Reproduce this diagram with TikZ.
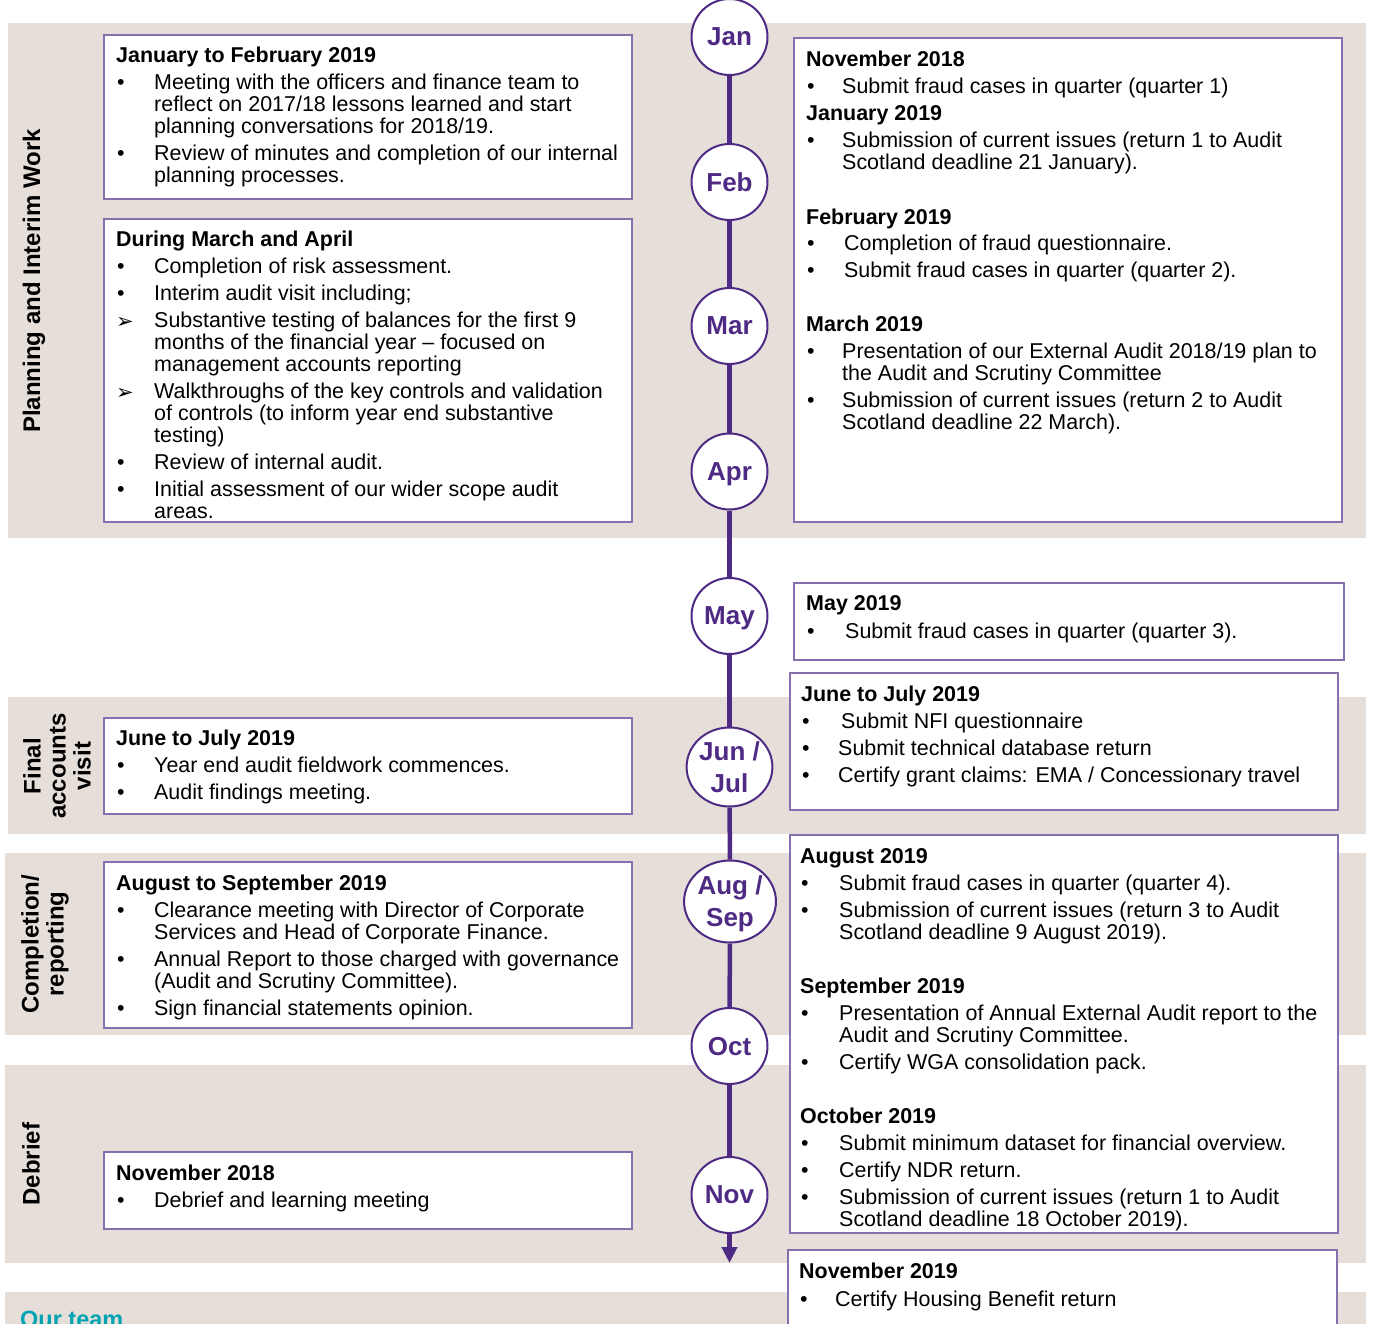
\documentclass[tikz,border=0pt]{standalone}
\usepackage{fontspec}
\setmainfont{Liberation Sans}
\newfontfamily\dejavu{DejaVu Sans}
\usetikzlibrary{arrows.meta,shapes.geometric}
\definecolor{bandc}{HTML}{E6DFD9}
\definecolor{purp}{HTML}{4E2A84}
\definecolor{boxline}{HTML}{8370AC}
\definecolor{ourteal}{HTML}{00A3B4}
\newcommand\bodyfont{\fontsize{21.45}{22}\selectfont}
\newcounter{lnc}
\newcommand\tx[3]{\stepcounter{lnc}\node[txt] (line\arabic{lnc}) at (#1,#2) {#3};}
\newcommand\hd[3]{\stepcounter{lnc}\node[txt,font=\bodyfont\bfseries] (line\arabic{lnc}) at (#1,#2) {#3};}
\newcommand\bul[1]{\makebox[#1pt][l]{\hspace{1pt}•}}
\newcommand\arr[1]{\makebox[#1pt][l]{\raisebox{-0.5pt}{\dejavu\fontsize{21}{21}\selectfont ➢}}}
\tikzset{
  txt/.style={anchor=base west, inner sep=0pt, font=\bodyfont},
  boxr/.style={draw=boxline, line width=1.3pt, fill=white},
  mon/.style={circle, draw=purp, line width=2pt, fill=white, minimum size=76pt, inner sep=0pt,
    text=purp, font=\fontsize{26}{32}\selectfont\bfseries, align=center, text depth=0pt},
  mon2/.style={ellipse, draw=purp, line width=2pt, fill=white, inner sep=0pt,
    text=purp, font=\fontsize{26}{32}\selectfont\bfseries, align=center, text depth=0pt},
  tline/.style={draw=purp, line width=4.5pt},
  vlab/.style={rotate=90, inner sep=0pt, font=\fontsize{24}{25}\selectfont\bfseries, align=center},
}
\begin{document}
\begin{tikzpicture}[x=1pt,y=-1pt]
\useasboundingbox (0,0) rectangle (1373,1323);
% bands
\fill[bandc] (8,23) rectangle (1366,538);
\fill[bandc] (8,697) rectangle (1366,834);
\fill[bandc] (5,853) rectangle (1366,1035);
\fill[bandc] (5,1065) rectangle (1366,1263);
\fill[bandc] (5,1292) rectangle (1366,1340);
% side labels
\node[vlab] (lab1) at (34,281) {Planning and Interim Work};
\node[vlab] (lab2) at (57,766) {Final\\accounts\\visit};
\node[vlab] (lab3) at (45,944) {Completion/\\reporting};
\node[vlab] (lab4) at (31,1164) {Debrief};
\node[anchor=base west, inner sep=0pt, font=\fontsize{23.5}{25}\selectfont\bfseries, text=ourteal] (ourteam) at (20,1327) {Our team};
% boxes
\draw[boxr] (104,35) rectangle (632,199);
\draw[boxr] (104,219) rectangle (632,522);
\draw[boxr] (104,718) rectangle (632,814);
\draw[boxr] (104,862) rectangle (632,1028);
\draw[boxr] (104,1152) rectangle (632,1229);
\draw[boxr] (794,38) rectangle (1342,522);
\draw[boxr] (794,583) rectangle (1344,660);
\draw[boxr] (790,673) rectangle (1338,810);
\draw[boxr] (790,835) rectangle (1338,1233);
\draw[boxr] (788,1250) rectangle (1337,1345);
% left texts
\hd{116}{62.7}{January to February 2019}
\tx{116}{89.7}{\bul{38}Meeting with the officers and finance team to}
\tx{154}{111.7}{reflect on 2017/18 lessons learned and start}
\tx{154}{133.7}{planning conversations for 2018/19.}
\tx{116}{160.7}{\bul{38}Review of minutes and completion of our internal}
\tx{154}{182.7}{planning processes.}
\hd{116}{246.7}{During March and April}
\tx{116}{273.7}{\bul{38}Completion of risk assessment.}
\tx{116}{300.7}{\bul{38}Interim audit visit including;}
\tx{116}{327.7}{\arr{38}Substantive testing of balances for the first 9}
\tx{154}{349.7}{months of the financial year – focused on}
\tx{154}{371.7}{management accounts reporting}
\tx{116}{398.7}{\arr{38}Walkthroughs of the key controls and validation}
\tx{154}{420.7}{of controls (to inform year end substantive}
\tx{154}{442.7}{testing)}
\tx{116}{469.7}{\bul{38}Review of internal audit.}
\tx{116}{496.7}{\bul{38}Initial assessment of our wider scope audit}
\tx{154}{518.7}{areas.}
\hd{116}{745.5}{June to July 2019}
\tx{116}{772.5}{\bul{38}Year end audit fieldwork commences.}
\tx{116}{799.5}{\bul{38}Audit findings meeting.}
\hd{116}{890.5}{August to September 2019}
\tx{116}{917.5}{\bul{38}Clearance meeting with Director of Corporate}
\tx{154}{939.5}{Services and Head of Corporate Finance.}
\tx{116}{966.5}{\bul{38}Annual Report to those charged with governance}
\tx{154}{988.5}{(Audit and Scrutiny Committee).}
\tx{116}{1015.5}{\bul{38}Sign financial statements opinion.}
\hd{116}{1180.5}{November 2018}
\tx{116}{1207.5}{\bul{38}Debrief and learning meeting}
% right texts
\hd{806}{66.7}{November 2018}
\tx{806}{93.7}{\bul{36}Submit fraud cases in quarter (quarter 1)}
\hd{806}{120.7}{January 2019}
\tx{806}{147.5}{\bul{36}Submission of current issues (return 1 to Audit}
\tx{842}{169.5}{Scotland deadline 21 January).}
\hd{806}{224}{February 2019}
\tx{806}{250.7}{\bul{38}Completion of fraud questionnaire.}
\tx{806}{277.5}{\bul{38}Submit fraud cases in quarter (quarter 2).}
\hd{806}{331.5}{March 2019}
\tx{806}{358.5}{\bul{36}Presentation of our External Audit 2018/19 plan to}
\tx{842}{380.5}{the Audit and Scrutiny Committee}
\tx{806}{407.5}{\bul{36}Submission of current issues (return 2 to Audit}
\tx{842}{429.5}{Scotland deadline 22 March).}
\hd{806}{610.5}{May 2019}
\tx{806}{638}{\bul{39}Submit fraud cases in quarter (quarter 3).}
\hd{801}{701.5}{June to July 2019}
\tx{801}{728.5}{\bul{40}Submit NFI questionnaire}
\tx{801}{755.5}{\bul{37}Submit technical database return}
\tx{801}{782.5}{\bul{37}Certify grant claims: EMA / Concessionary travel}
\hd{800}{863.5}{August 2019}
\tx{800}{890.5}{\bul{39}Submit fraud cases in quarter (quarter 4).}
\tx{800}{917.5}{\bul{39}Submission of current issues (return 3 to Audit}
\tx{839}{939.5}{Scotland deadline 9 August 2019).}
\hd{800}{993.5}{September 2019}
\tx{800}{1020.5}{\bul{39}Presentation of Annual External Audit report to the}
\tx{839}{1042.5}{Audit and Scrutiny Committee.}
\tx{800}{1069.5}{\bul{39}Certify WGA consolidation pack.}
\hd{800}{1123.5}{October 2019}
\tx{800}{1150.5}{\bul{39}Submit minimum dataset for financial overview.}
\tx{800}{1177.5}{\bul{39}Certify NDR return.}
\tx{800}{1204.5}{\bul{39}Submission of current issues (return 1 to Audit}
\tx{839}{1226.5}{Scotland deadline 18 October 2019).}
\hd{799}{1278.5}{November 2019}
\tx{799}{1306.5}{\bul{36}Certify Housing Benefit return}
% timeline
\node[mon] (jan) at (729.5,37) {Jan};
\node[mon] (feb) at (729.5,182) {Feb};
\node[mon] (mar) at (729.5,326) {Mar};
\node[mon] (apr) at (729.5,471.5) {Apr};
\node[mon] (may) at (729.5,616) {May};
\node[mon2, minimum width=80pt, minimum height=79pt] (junjul) at (729.5,767) {Jun /\\Jul};
\node[mon2, minimum width=83pt, minimum height=82pt] (augsep) at (730,901.5) {Aug /\\Sep};
\node[mon] (oct) at (729.5,1046) {Oct};
\node[mon] (nov) at (729.5,1195) {Nov};
\coordinate (tlend) at (729.5,1263);
\draw[tline] (jan) -- (feb);
\draw[tline] (feb) -- (mar);
\draw[tline] (mar) -- (apr);
\draw[tline] (apr) -- (may);
\draw[tline] (may) -- (junjul);
\draw[tline] (junjul) -- (augsep);
\draw[tline] (augsep) -- (oct);
\draw[tline] (oct) -- (nov);
\draw[tline, -{Triangle[length=16pt,width=15pt]}] (nov) -- (tlend);
\end{tikzpicture}
\end{document}
